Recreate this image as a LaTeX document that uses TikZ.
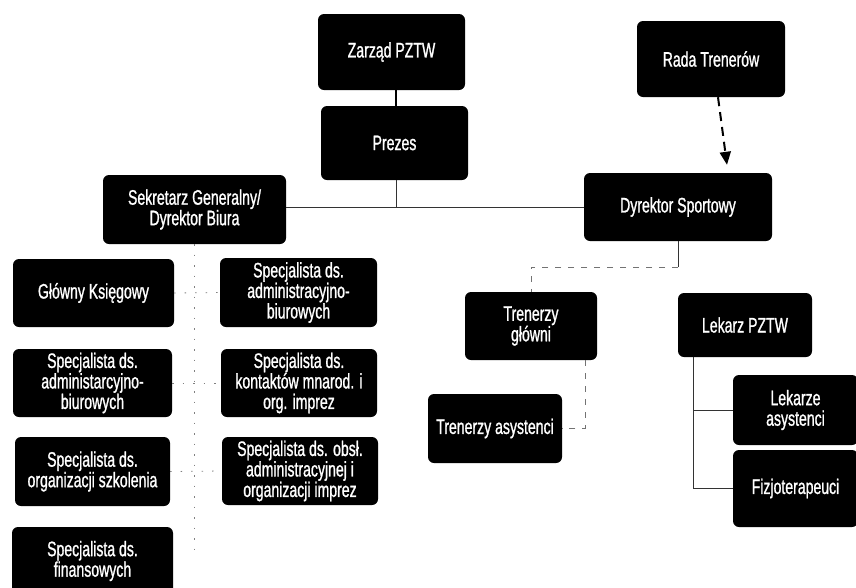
\documentclass[tikz,border=0pt]{standalone}
\usepackage{fontspec}
\setmainfont[FakeStretch=0.67,FakeBold=1]{Liberation Sans}
\usetikzlibrary{arrows.meta}
\begin{document}
\begin{tikzpicture}[x=1pt,y=-1pt,
  box/.style={fill=black, text=white, rounded corners=6pt, align=center,
    inner sep=2pt, font=\fontsize{21}{20.5}\selectfont},
  solidline/.style={draw=black, line width=1.2pt},
  thinline/.style={draw=black!80, line width=0.9pt},
  faint/.style={draw=black!55, line width=0.8pt, dash pattern=on 6pt off 7pt},
  dotline/.style={draw=black!50, line width=0.8pt, dash pattern=on 1.5pt off 9pt},
  arrowline/.style={draw=black, line width=2pt, dash pattern=on 9pt off 6pt, -{Triangle[length=13pt,width=11pt]}}]
\useasboundingbox (0,0) rectangle (856,587);
\fill[white] (0,0) rectangle (856,587);

% top level
\node[box, minimum width=147pt, minimum height=76pt] (zarzad) at (391.5,52) {Zarząd PZTW};
\node[box, minimum width=147pt, minimum height=74pt] (prezes) at (394.5,143) {Prezes};
\node[box, minimum width=148pt, minimum height=76pt] (rada) at (711,59) {Rada Trenerów};
\node[box, minimum width=183pt, minimum height=69pt] (sek) at (194.5,209.5) {Sekretarz Generalny/\\Dyrektor Biura};
\node[box, minimum width=188pt, minimum height=68pt] (dyr) at (678,207) {Dyrektor Sportowy};

% sport branch
\node[box, minimum width=132pt, minimum height=68pt] (tg) at (531,326) {Trenerzy\\główni};
\node[box, minimum width=134pt, minimum height=64pt] (lek) at (745,325) {Lekarz PZTW};
\node[box, minimum width=134pt, minimum height=69pt] (ta) at (495,428.5) {Trenerzy asystenci};
\node[box, minimum width=125pt, minimum height=70pt] (la) at (795.5,410) {Lekarze\\asystenci};
\node[box, minimum width=125pt, minimum height=77pt] (fiz) at (795.5,488.5) {Fizjoterapeuci};

% office branch
\node[box, minimum width=161pt, minimum height=68pt] (gk) at (93.5,293) {Główny Księgowy};
\node[box, minimum width=159pt, minimum height=68pt] (l2) at (92.5,383) {Specjalista ds.\\administarcyjno-\\biurowych};
\node[box, minimum width=155pt, minimum height=69pt] (l3) at (92.5,471.5) {Specjalista ds.\\organizacji szkolenia};
\node[box, minimum width=161pt, minimum height=68pt] (l4) at (92.5,561) {Specjalista ds.\\finansowych};
\node[box, minimum width=157pt, minimum height=69pt] (r1) at (298.5,292.5) {Specjalista ds.\\administracyjno-\\biurowych};
\node[box, minimum width=156pt, minimum height=68pt] (r2) at (299,383) {Specjalista ds.\\kontaktów mnarod. i\\org. imprez};
\node[box, minimum width=156pt, minimum height=68pt] (r3) at (300,471) {Specjalista ds. obsł.\\administracyjnej i\\organizacji imprez};

% connectors
\coordinate (j1) at (396,207);
\coordinate (j2) at (678,267);
\coordinate (sp) at (195,558);
\draw[solidline] (prezes.north -| j1) -- (zarzad.south -| j1);
\draw[thinline] (prezes.south -| j1) -- (j1);
\draw[thinline] (sek.east |- j1) -- (dyr.west);
\draw[arrowline] ([xshift=7pt]rada.south) -- ([xshift=49pt,yshift=8pt]dyr.north);
\draw[thinline] (dyr.south) -- (j2);
\draw[faint] (j2) -| (tg.north);
\draw[faint] ([xshift=54pt]tg.south) |- (ta.east);
\draw[thinline] ([xshift=-52pt]lek.south) |- (la.west);
\draw[thinline] ([xshift=-52pt]lek.south) |- (fiz.west);
\draw[dotline] (sek.south) -- (sek.south |- sp);
\draw[dotline] (gk.east) -- (r1.west);
\draw[dotline] (l2.east) -- (r2.west);
\draw[dotline] (l3.east) -- (r3.west);
\end{tikzpicture}
\end{document}
